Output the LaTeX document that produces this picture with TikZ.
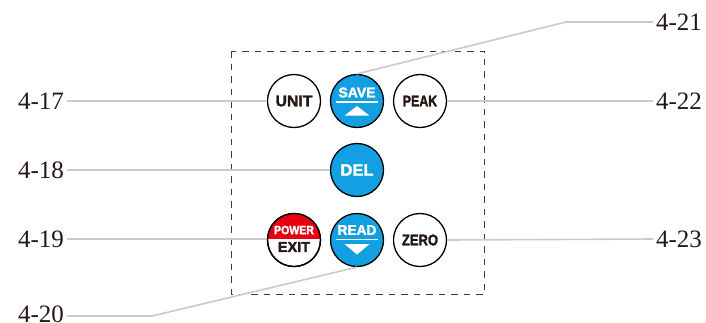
\documentclass[tikz,border=0pt]{standalone}
\usepackage{fontspec}
\setmainfont{Liberation Serif}
\newfontfamily\btnfont{Liberation Sans}[BoldFeatures={FakeBold=2}]
\definecolor{btnblue}{HTML}{12A0E3}
\definecolor{btnred}{HTML}{E60012}
\definecolor{leadgray}{HTML}{C9CACA}
\definecolor{ink}{HTML}{231815}
\definecolor{boxgray}{HTML}{3E3A39}
% size, horizontal scale, text
\newcommand{\btxt}[3]{\scalebox{#2}[1]{\btnfont\bfseries\fontsize{#1}{#1}\selectfont #3}}
\tikzset{
  lbl/.style={font=\fontsize{25}{25}\selectfont, text=ink, inner sep=2.5pt},
  lead/.style={draw=leadgray, line width=1.6pt},
  btn/.style={circle, draw=black, line width=1.3pt, minimum size=53pt, inner sep=0pt, fill=white, text=ink},
  bluebtn/.style={btn, fill=btnblue, text=white},
  btnline/.style={white, line width=1.6pt},
  tri/.style={fill=white, draw=none}
}
\begin{document}
\begin{tikzpicture}[x=1pt,y=-1pt]
\useasboundingbox (0,0) rectangle (706,322);
% dashed frame
\draw[boxgray, line width=0.9pt, dash pattern=on 6.5pt off 6pt] (231.5,51) rectangle (484.5,294);
% labels
\node[lbl] (l17) at (41,101) {4-17};
\node[lbl] (l18) at (41,170) {4-18};
\node[lbl] (l19) at (41,239) {4-19};
\node[lbl] (l20) at (41,314.5) {4-20};
\node[lbl] (l21) at (679,22) {4-21};
\node[lbl] (l22) at (679,101) {4-22};
\node[lbl] (l23) at (679,239) {4-23};
\coordinate (k21) at (566,22);
\coordinate (k20) at (152,316);
% buttons
\node[btn] (unit) at (294,101) {\btxt{15.5}{1.02}{UNIT}};
\node[btn] (peak) at (420,101) {\btxt{15.5}{0.8}{PEAK}};
\node[btn] (zero) at (420,240) {\btxt{15.5}{0.84}{ZERO}};
\node[bluebtn] (del) at (357,170) {\btxt{16.5}{1.0}{DEL}};
\node[bluebtn] (save) at (357,101) {};
\node[bluebtn] (read) at (357,240) {};
\node[btn] (pow) at (294,240) {};
% leader lines
\draw[lead] (l17.east) -- (unit.west);
\draw[lead] (l18.east) -- (del.west);
\draw[lead] (l19.east) -- (l19.east -| pow.west);
\draw[lead] (peak.east) -- (l22.west);
\draw[lead] (zero.east) -- (l23.west);
\draw[lead] (save.north) -- (k21) -- (l21.west);
\draw[lead] (read.south) -- (k20) -- (k20 -| l20.east);
% power/exit red half
\begin{scope}
  \clip (pow.center) circle (26.5pt);
  \fill[btnred] ([xshift=-30pt,yshift=30pt]pow.center) rectangle ([xshift=30pt,yshift=0.6pt]pow.center);
\end{scope}
\draw[black, line width=1.3pt] (pow.center) circle (26.5pt);
\node[text=white, inner sep=0pt] (powtxt) at ([yshift=10pt]pow.center) {\btxt{12}{0.88}{POWER}};
\node[text=ink, inner sep=0pt] (exittxt) at ([yshift=-7pt]pow.center) {\btxt{14.5}{1.0}{EXIT}};
% save
\node[text=white, inner sep=0pt] (savetxt) at ([yshift=8.5pt]save.center) {\btxt{14}{1.0}{SAVE}};
\draw[btnline] ([xshift=-21pt,yshift=-1pt]save.center) -- ([xshift=21pt,yshift=-1pt]save.center);
\fill[tri] ([yshift=-5pt]save.center) -- ([xshift=12.5pt,yshift=-14.7pt]save.center) -- ([xshift=-12.5pt,yshift=-14.7pt]save.center) -- cycle;
% read
\node[text=white, inner sep=0pt] (readtxt) at ([yshift=10pt]read.center) {\btxt{14}{0.98}{READ}};
\draw[btnline] ([xshift=-21pt,yshift=0.5pt]read.center) -- ([xshift=21pt,yshift=0.5pt]read.center);
\fill[tri] ([xshift=-12.5pt,yshift=-4pt]read.center) -- ([xshift=12.5pt,yshift=-4pt]read.center) -- ([yshift=-14.5pt]read.center) -- cycle;
\end{tikzpicture}
\end{document}
